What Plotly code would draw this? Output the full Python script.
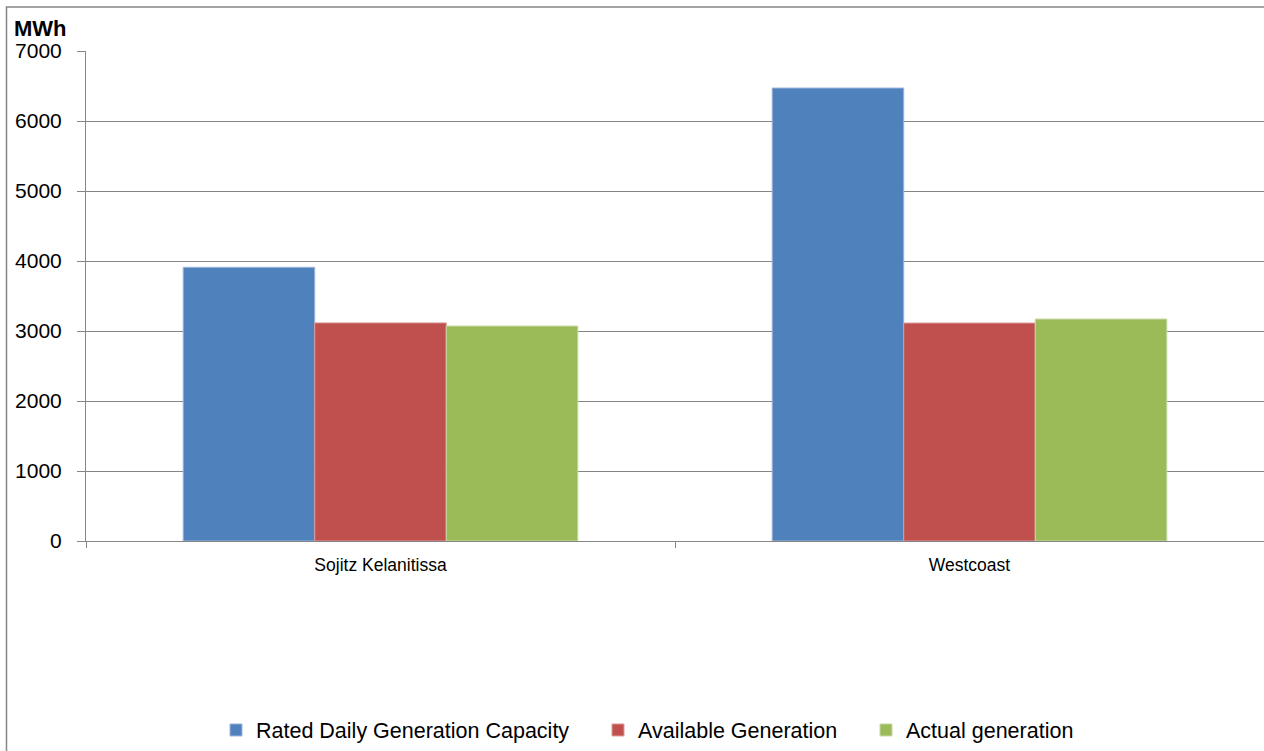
import plotly.graph_objects as go

categories = ["Sojitz Kelanitissa", "Westcoast"]
series_names = ["Rated Daily Generation Capacity", "Available Generation", "Actual generation"]
rated = [3910, 6471]
available = [3116, 3114]
actual = [3071, 3171]
colors = ["#4F81BD", "#C0504D", "#9BBB59"]
line_colors = ["#9DB6DA", "#DC9C9A", "#C7D9A6"]
y_ticks = [0, 1000, 2000, 3000, 4000, 5000, 6000, 7000]

W, H = 1264, 751
L, R, T, B = 86, 0, 51, 210
pw, ph = W - L - R, H - T - B

font_family = "Liberation Sans, Arial, sans-serif"

legend_ids = ["legend", "legend2", "legend3"]
legend_left_px = [230, 612, 880]

fig = go.Figure()
for name, vals, c, lc, lid in zip(series_names, [rated, available, actual], colors, line_colors, legend_ids):
    fig.add_trace(go.Bar(x=categories, y=vals, name=name, legend=lid,
                         marker=dict(color=c, line=dict(color=lc, width=1))))

legend_common = dict(orientation="h", xanchor="left", yanchor="middle",
                     y=(T + ph - 730) / ph, bgcolor="rgba(0,0,0,0)",
                     font=dict(size=21.5, family=font_family, color="black"),
                     borderwidth=0)
legends = {}
for lid, px in zip(legend_ids, legend_left_px):
    d = dict(legend_common)
    d["x"] = (px - 14 - L) / pw
    legends[lid] = d

fig.update_layout(
    width=W, height=H,
    margin=dict(l=L, r=R, t=T, b=B, pad=0),
    paper_bgcolor="white", plot_bgcolor="white",
    barmode="group", bargap=0.33, bargroupgap=0,
    font=dict(family=font_family, color="black"),
    showlegend=True,
    xaxis=dict(showline=True, linecolor="#868686", linewidth=1,
               ticks="outside", tickson="boundaries", ticklen=6, tickcolor="#868686",
               tickfont=dict(size=17.5, family=font_family), showgrid=False,
               ticklabelstandoff=8),
    yaxis=dict(range=[0, 7000], tickvals=y_ticks, showline=True, linecolor="#868686",
               linewidth=1, ticks="outside", ticklen=8, tickcolor="#868686",
               showgrid=True, gridcolor="#858585", gridwidth=1.4,
               tickfont=dict(size=21, family=font_family), zeroline=False,
               ticklabelstandoff=11),
    **legends,
)

fig.add_shape(type="rect", xref="paper", yref="paper",
              x0=(6.5 - L) / pw, x1=(W + 5 - L) / pw,
              y0=(T + ph - (H + 5)) / ph, y1=(T + ph - 7) / ph,
              line=dict(color="#868686", width=1.5), fillcolor="rgba(0,0,0,0)", layer="below")

fig.add_annotation(text="<b>MWh</b>", xref="paper", yref="paper",
                   x=(12 - L) / pw, xanchor="left",
                   y=(T + ph - 29) / ph, yanchor="middle",
                   showarrow=False, font=dict(size=22, family=font_family, color="black"))

fig.write_html("out.html", config={"displayModeBar": False},
               post_script="document.body.style.margin='0';document.body.style.overflow='hidden';")
